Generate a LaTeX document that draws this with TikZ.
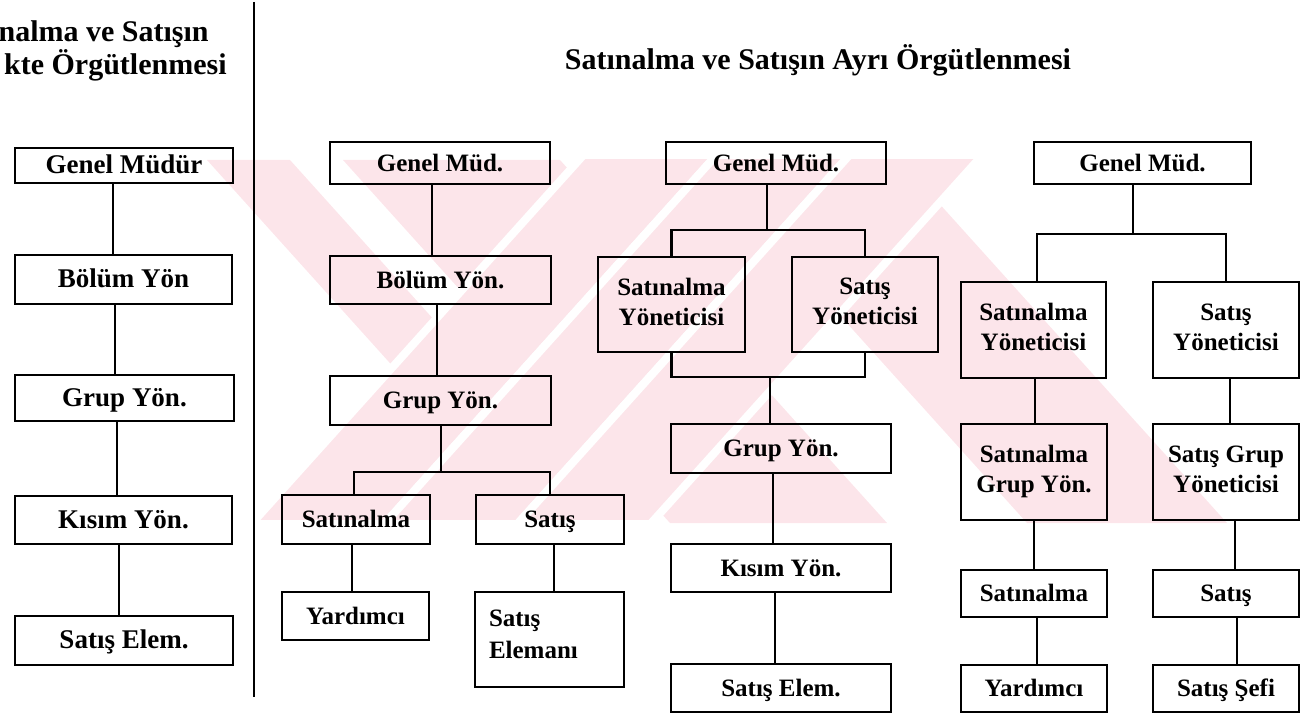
\documentclass[tikz,border=0pt]{standalone}
\usepackage{fontspec}
\setmainfont{Liberation Serif}
\definecolor{wmpink}{RGB}{252,229,234}
% strut that keeps single and double lines evenly centred in their boxes
\newcommand\bxstrut{\rule[-2.8pt]{0pt}{13.8pt}}
\tikzset{
  box/.style={draw, line width=1.25pt, inner sep=0pt, align=center,
              font=\fontsize{12.5}{15}\selectfont\bfseries,
              execute at begin node=\bxstrut, execute at end node=\bxstrut},
  lbox/.style={box, font=\fontsize{13.5}{16}\selectfont\bfseries},
  link/.style={line width=1.25pt},
  heading/.style={inner sep=0pt, font=\fontsize{15}{18}\selectfont\bfseries},
  wm/.style={fill=wmpink, draw=none},
  wmfront/.style={fill=wmpink, draw=white, line width=4pt, line join=miter},
}
% vertical link from the bottom of #1 to the top of #2, shifted by #3
\newcommand\vlink[3]{\draw[link] ([xshift=#3]#1.south) coordinate (vl) -- (vl |- #2.north);}
\begin{document}
\begin{tikzpicture}[x=0.5pt, y=-0.5pt]
\useasboundingbox (0,0) rectangle (1314,717);

% faint striped emblem in the background (slanted bands, slope 0.9)
\begin{scope}
  \clip (207,160) rectangle (1310,523);
  % bands running down to the right
  \fill[wm] (207,160) -- (290,160) -- (617,523) -- (534,523) -- cycle;
  \fill[wm] (343,160) -- (560,160) -- (887,523) -- (670,523) -- cycle;
  \fill[wm] (700,160) -- (900,160) -- (1227,523) -- (1027,523) -- cycle;
  % band running down to the left, in front, split into three stripes
  \foreach \a/\b in {588/721, 721/854, 854/987}{
    \draw[wmfront] (\a,150) -- (\b,150) -- (\b-336.6,524) -- (\a-336.6,524) -- cycle;
  }
\end{scope}

% headings
\node[heading, anchor=base east] (lt1) at (209,42) {nalma ve Satışın};
\node[heading, anchor=base east] (lt2) at (227,75) {kte Örgütlenmesi};
\node[heading, anchor=base] (mt) at (818,70) {Satınalma ve Satışın Ayrı Örgütlenmesi};

% separator
\draw[line width=1.3pt] (254,2) -- (254,697);

% column 1
\node[lbox, minimum width=109pt,   minimum height=17.5pt] (c1a) at (124,165.5)   {Genel Müdür};
\node[lbox, minimum width=108.5pt, minimum height=24.5pt] (c1b) at (123.5,279.5) {Bölüm Yön};
\node[lbox, minimum width=109.5pt, minimum height=23pt]   (c1c) at (124.5,398)   {Grup Yön.};
\node[lbox, minimum width=108.5pt, minimum height=24pt]   (c1d) at (123.5,520)   {Kısım Yön.};
\node[lbox, minimum width=109pt,   minimum height=24.5pt] (c1e) at (124,640.5)   {Satış Elem.};
\vlink{c1a}{c1b}{-5.5pt}
\vlink{c1b}{c1c}{-4.25pt}
\vlink{c1c}{c1d}{-3.75pt}
\vlink{c1d}{c1e}{-2.25pt}

% column 2
\node[box, minimum width=110pt,   minimum height=21pt]   (g2)  at (440,163)     {Genel Müd.};
\node[box, minimum width=110.5pt, minimum height=24pt]   (b2)  at (440.5,280)   {Bölüm Yön.};
\node[box, minimum width=110.5pt, minimum height=24.5pt] (r2)  at (440.5,400.5) {Grup Yön.};
\node[box, minimum width=74pt,    minimum height=24.5pt] (s2a) at (356,519.5)   {Satınalma};
\node[box, minimum width=74pt,    minimum height=24.5pt] (s2b) at (550,519.5)   {Satış};
\node[box, minimum width=73.5pt,  minimum height=24pt]   (y2a) at (355.5,616)   {Yardımcı};
\node[box, minimum width=74.5pt,  minimum height=47.5pt, text width=60.5pt, align=left,
      font=\fontsize{12.5}{16}\selectfont\bfseries, text depth=24.3pt]
     (y2b) at (549.5,639.5) {Satış\\Elemanı};
\vlink{g2}{b2}{-4pt}
\vlink{b2}{r2}{-1.75pt}
\coordinate (j2) at (441,472);
\draw[link] (j2) -- (j2 |- r2.south);
\draw[link] ([xshift=-1pt]s2a.north) |- (j2) -| (s2b.north);
\vlink{s2a}{y2a}{-2pt}
\vlink{s2b}{y2b}{2pt}

% column 3
\node[box, minimum width=110pt,  minimum height=21pt]   (g3)  at (776,163)     {Genel Müd.};
\node[box, minimum width=73.5pt, minimum height=47.5pt] (m3a) at (671.5,304.5) {Satınalma\\Yöneticisi};
\node[box, minimum width=73pt,   minimum height=47.5pt] (m3b) at (865,304.5)   {Satış\\Yöneticisi};
\node[box, minimum width=110pt,  minimum height=24.5pt] (r3)  at (781,448.5)   {Grup Yön.};
\node[box, minimum width=110pt,  minimum height=24pt]   (k3)  at (781,568)     {Kısım Yön.};
\node[box, minimum width=110pt,  minimum height=24pt]   (e3)  at (781,688)     {Satış Elem.};
\coordinate (j3) at (767,230);
\draw[link] (j3) -- (j3 |- g3.south);
\draw[link] (m3a.north) |- (j3) -| (m3b.north);
\coordinate (u3) at (770,377);
\draw[link] (m3a.south) |- (u3) -| (m3b.south);
\draw[link] (u3) -- (u3 |- r3.north);
\vlink{r3}{k3}{-4pt}
\vlink{k3}{e3}{-3pt}

% column 4
\node[box, minimum width=108.5pt, minimum height=21pt]   (g4)  at (1142.5,163) {Genel Müd.};
\node[box, minimum width=72.5pt,  minimum height=48pt]   (m4a) at (1033.5,330) {Satınalma\\Yöneticisi};
\node[box, minimum width=73pt,    minimum height=48pt]   (m4b) at (1226,330)   {Satış\\Yöneticisi};
\node[box, minimum width=73pt,    minimum height=48pt]   (n4a) at (1034,472)   {Satınalma\\Grup Yön.};
\node[box, minimum width=73pt,    minimum height=48pt]   (n4b) at (1226,472)   {Satış Grup\\Yöneticisi};
\node[box, minimum width=73pt,    minimum height=23.5pt] (p4a) at (1034,593.5) {Satınalma};
\node[box, minimum width=73pt,    minimum height=23.5pt] (p4b) at (1226,593.5) {Satış};
\node[box, minimum width=73pt,    minimum height=23.5pt] (q4a) at (1034,688.5) {Yardımcı};
\node[box, minimum width=73pt,    minimum height=23.5pt] (q4b) at (1226,688.5) {Satış Şefi};
\coordinate (j4) at (1133,234);
\draw[link] (j4) -- (j4 |- g4.south);
\draw[link] ([xshift=1.75pt]m4a.north) |- (j4) -| (m4b.north);
\vlink{m4a}{n4a}{0.75pt}
\vlink{m4b}{n4b}{2pt}
\vlink{n4a}{p4a}{0pt}
\vlink{n4b}{p4b}{4.5pt}
\vlink{p4a}{q4a}{1.5pt}
\vlink{p4b}{q4b}{5.5pt}
\end{tikzpicture}
\end{document}
